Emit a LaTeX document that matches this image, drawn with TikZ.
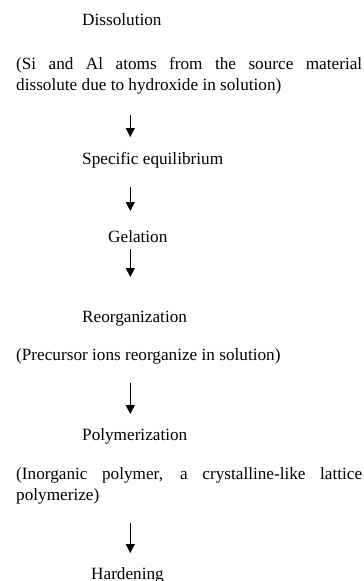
\documentclass[tikz,border=0pt]{standalone}
\usepackage{fontspec}
\setmainfont{Liberation Serif}
\usetikzlibrary{arrows.meta}
\begin{document}
\begin{tikzpicture}[x=1pt,y=-1pt,
  lbl/.style={anchor=base west, inner sep=0pt, font=\fontsize{17.2}{21}\selectfont},
  arr/.style={line width=1pt, -{Triangle[length=9pt,width=9pt]}}]
\useasboundingbox (0,0) rectangle (364,581);
% text nodes
\node[lbl] (diss) at (82,25) {Dissolution};
\node[lbl] (dissA) at (16,69) {\makebox[346pt][s]{(Si and Al atoms from the source material}};
\node[lbl] (dissB) at (16,90.5) {dissolute due to hydroxide in solution)};
\node[lbl] (equi) at (82,164) {Specific equilibrium};
\node[lbl] (gel) at (108,242.7) {Gelation};
\node[lbl] (reorg) at (82,322.3) {Reorganization};
\node[lbl] (reorgA) at (16,360) {(Precursor ions reorganize in solution)};
\node[lbl] (poly) at (82,440) {Polymerization};
\node[lbl] (polyA) at (16,479) {\makebox[346pt][s]{(Inorganic polymer, a crystalline-like lattice}};
\node[lbl] (polyB) at (16,500) {polymerize)};
\node[lbl] (hard) at (91,579.5) {Hardening};
% arrow ends
\coordinate (a1s) at (130.3,115);
\coordinate (a1e) at (130.3,137);
\coordinate (a2s) at (130.3,187);
\coordinate (a2e) at (130.3,211);
\coordinate (a3s) at (130.3,249);
\coordinate (a3e) at (130.3,277);
\coordinate (a4s) at (130.3,383);
\coordinate (a4e) at (130.3,414);
\coordinate (a5s) at (130.3,523);
\coordinate (a5e) at (130.3,553);
\draw[arr] (a1s) -- (a1e);
\draw[arr] (a2s) -- (a2e);
\draw[arr] (a3s) -- (a3e);
\draw[arr] (a4s) -- (a4e);
\draw[arr] (a5s) -- (a5e);
\end{tikzpicture}
\end{document}
